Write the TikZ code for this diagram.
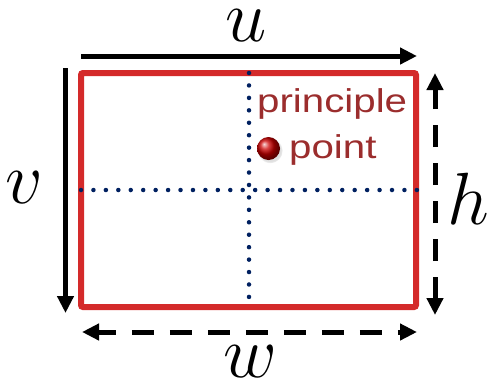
\RequirePackage{fix-cm}
\documentclass[tikz,border=0pt]{standalone}
\usepackage{fontspec}
\usepackage{graphicx}
\newfontfamily\labelsans{Liberation Sans}
\usetikzlibrary{arrows.meta,shadows}
\definecolor{framered}{RGB}{212,42,42}
\definecolor{gridnavy}{RGB}{0,32,96}
\definecolor{txtred}{RGB}{155,45,45}
\begin{document}
\begin{tikzpicture}[x=1pt,y=-1pt,
  tip/.tip={Triangle[length=17pt,width=16pt]},
  dimarrow/.style={line width=5pt, -tip},
  dimdash/.style={line width=5pt, tip-tip, dash pattern=on 22pt off 16pt},
  axislabel/.style={font=\fontsize{74}{74}\selectfont, inner sep=0pt, anchor=base, text height=0.46em, text depth=0pt},
  gridline/.style={draw=gridnavy, line width=4.5pt, line cap=round, dash pattern=on 0pt off 12.44pt},
  pplabel/.style={text=txtred, font=\fontsize{33}{33}\selectfont\labelsans, inner sep=0pt, anchor=base west}
]
\useasboundingbox (0,0) rectangle (489,384);

% image frame
\node[draw=framered, line width=6pt, rounded corners=2pt, minimum width=335pt, minimum height=234pt, inner sep=0pt] (img) at (248.5,190) {};

% dotted center lines
\coordinate (vtop) at (249,73);
\coordinate (vbot) at (249,297);
\coordinate (hl) at (81,190);
\coordinate (hr) at (417,190);
\draw[gridline] (vtop) -- (vbot);
\draw[gridline] (hl) -- (hr);

% principle point
\node[circle, minimum size=23pt, inner sep=0pt, ball color=red!80!black, shading=ball,
      circular drop shadow={shadow xshift=1.5pt, shadow yshift=-2pt, opacity=0.25}] (pp) at (268.5,148.5) {};
\node[pplabel] (lab1) at (257,112) {\scalebox{1.22}[1]{principle}};
\node[pplabel] (lab2) at (289,158) {\scalebox{1.22}[1]{point}};

% u axis
\coordinate (ua) at (81,56);
\coordinate (ub) at (417,56);
\draw[dimarrow] (ua) -- (ub);
\node[axislabel] (ulab) at (246,41) {$u$};

% v axis
\coordinate (va) at (65.5,68);
\coordinate (vb) at (65.5,313);
\draw[dimarrow] (va) -- (vb);
\node[axislabel] (vlab) at (24,203) {$v$};

% h dimension
\coordinate (ha) at (435,73);
\coordinate (hb) at (435,315);
\draw[dimdash] (hb) -- (ha);
\node[axislabel, text height=0.7em] (hlab) at (468,224) {$h$};

% w dimension
\coordinate (wa) at (82,332);
\coordinate (wb) at (417,332);
\draw[dimdash, dash phase=4pt] (wa) -- (wb);
\node[axislabel] (wlab) at (250,377) {$w$};
\end{tikzpicture}
\end{document}
